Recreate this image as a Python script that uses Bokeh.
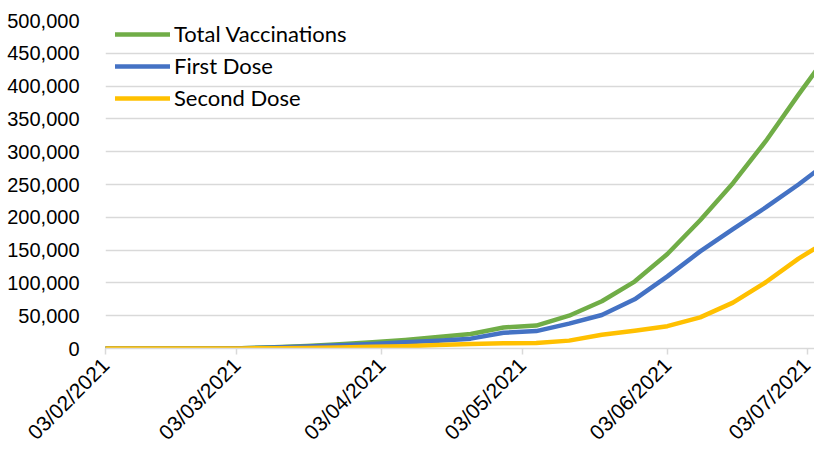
import math
import pandas as pd
from bokeh.plotting import figure
from bokeh.models import (Range1d, FixedTicker, DatetimeTickFormatter,
                          NumeralTickFormatter, Legend, LegendItem)
from bokeh.embed import file_html
from bokeh.resources import INLINE

dates = ["2021-02-03", "2021-02-11", "2021-02-18", "2021-02-25", "2021-03-04",
         "2021-03-11", "2021-03-18", "2021-03-25", "2021-04-01", "2021-04-08",
         "2021-04-15", "2021-04-22", "2021-04-29", "2021-05-06", "2021-05-13",
         "2021-05-20", "2021-05-27", "2021-06-03", "2021-06-10", "2021-06-17",
         "2021-06-24", "2021-07-01", "2021-07-06"]
total_vaccinations = [0, 0, 0, 100, 400, 1900, 3900, 6500, 9500, 13000,
                      17500, 22000, 32000, 35000, 50000, 72000, 102000, 144000,
                      195500, 252000, 316000, 387000, 436000]
first_dose = [0, 0, 0, 100, 300, 1500, 3000, 5000, 7000, 9500,
              12000, 15000, 24000, 26500, 38000, 51000, 75000, 110000,
              148000, 182000, 215000, 250000, 277000]
second_dose = [0, 0, 0, 0, 100, 400, 900, 1500, 2500, 3500,
               5500, 7000, 8000, 8500, 12000, 21000, 27000, 34000,
               47500, 70000, 101000, 137000, 159000]
tick_dates = ["2021-02-03", "2021-03-03", "2021-04-03", "2021-05-03",
              "2021-06-03", "2021-07-03"]
y_ticks = [0, 50000, 100000, 150000, 200000, 250000, 300000, 350000,
           400000, 450000, 500000]

x = pd.to_datetime(dates)
x_start = x[0]
x_end = pd.Timestamp("2021-07-04 10:00")

p = figure(width=814, height=456, output_backend="svg", toolbar_location=None,
           x_axis_type="datetime",
           x_range=Range1d(x_start, x_end), y_range=Range1d(0, 500000),
           min_border_left=105, min_border_right=0, min_border_top=20,
           min_border_bottom=108)
p.outline_line_color = None
p.background_fill_color = "white"
p.border_fill_color = "white"

grid_color = "#d9d9d9"
p.xgrid.grid_line_color = None
p.ygrid.grid_line_color = grid_color
p.ygrid.grid_line_width = 1.5
p.ygrid.ticker = FixedTicker(ticks=y_ticks)

ya = p.yaxis[0]
ya.ticker = FixedTicker(ticks=y_ticks)
ya.formatter = NumeralTickFormatter(format="0,0")
ya.axis_line_color = None
ya.major_tick_line_color = None
ya.minor_tick_line_color = None
ya.major_label_text_font = "Liberation Sans"
ya.major_label_text_font_size = "20px"
ya.major_label_text_color = "#000000"
ya.major_label_standoff = 20

xa = p.xaxis[0]
tick_ms = [pd.Timestamp(d).value // 10**6 for d in tick_dates]
xa.ticker = FixedTicker(ticks=tick_ms)
xa.formatter = DatetimeTickFormatter(days="%d/%m/%Y", months="%d/%m/%Y",
                                     years="%d/%m/%Y", hours="%d/%m/%Y")
xa.axis_line_color = grid_color
xa.axis_line_width = 1.5
xa.major_tick_line_color = grid_color
xa.major_tick_line_width = 1.5
xa.major_tick_in = 0
xa.major_tick_out = 6
xa.minor_tick_line_color = None
xa.major_label_orientation = math.pi / 4
xa.major_label_text_font = "Liberation Sans"
xa.major_label_text_font_size = "21px"
xa.major_label_text_color = "#000000"
xa.major_label_standoff = 7

common = dict(line_width=4.5, line_join="round", line_cap="round")
r_total = p.line(x, total_vaccinations, line_color="#70ad47", **common)
r_first = p.line(x, first_dose, line_color="#4472c4", **common)
r_second = p.line(x, second_dose, line_color="#ffc000", **common)

legend = Legend(items=[LegendItem(label="Total Vaccinations", renderers=[r_total]),
                       LegendItem(label="First Dose", renderers=[r_first]),
                       LegendItem(label="Second Dose", renderers=[r_second])],
                location=(10, 237))
legend.background_fill_alpha = 0
legend.border_line_color = None
legend.margin = 0
legend.padding = 0
legend.spacing = 5
legend.glyph_width = 55
legend.glyph_height = 20
legend.label_height = 20
legend.label_standoff = 4
legend.label_text_font = "Lato"
legend.label_text_font_size = "22px"
legend.label_text_color = "#000000"
p.add_layout(legend, "center")

open("out.html", "w").write(file_html(p, INLINE))
